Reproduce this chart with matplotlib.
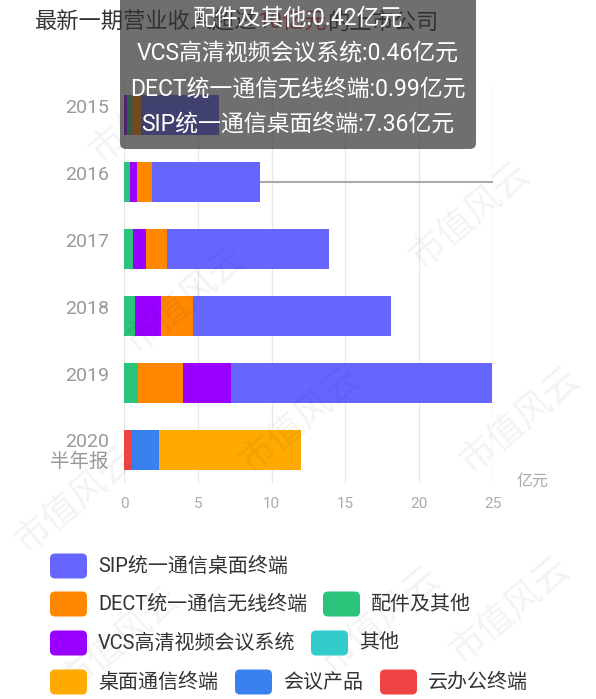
import numpy as np
import matplotlib.pyplot as plt
from matplotlib.patches import FancyBboxPatch
from matplotlib.transforms import IdentityTransform

plt.rcParams['font.family'] = ['Roboto', 'Noto Sans CJK SC', 'DejaVu Sans']

W, H = 596, 699

# data (亿元)
years = ['2015', '2016', '2017', '2018', '2019', '2020\n半年报']
names = ['SIP统一通信桌面终端', 'DECT统一通信无线终端', '配件及其他', 'VCS高清视频会议系统',
         '其他', '桌面通信终端', '会议产品', '云办公终端']
sip = [5.3, 7.36, 11.0, 13.4, 17.7, 0]
dect = [0.6, 0.99, 1.45, 2.2, 3.05, 0]
parts = [0.35, 0.42, 0.6, 0.75, 0.95, 0]
vcs = [0.2, 0.46, 0.87, 1.75, 3.25, 0]
other = [0, 0, 0, 0, 0, 0]
desk = [0, 0, 0, 0, 0, 9.6]
meeting = [0, 0, 0, 0, 0, 1.95]
cloud = [0, 0, 0, 0, 0, 0.45]
colors = ['#6666ff', '#ff8800', '#2cc47a', '#9900ff', '#33cccc', '#ffaa00', '#3a80ee', '#ee4444']
xticks = [0, 5, 10, 15, 20, 25]
hover = 1  # tooltip shown for 2016

vals = np.array([sip, dect, parts, vcs, other, desk, meeting, cloud])


def px(x, y):
    # pixel from top-left -> figure fraction
    return x / W, 1 - y / H


fig = plt.figure(figsize=(W / 100, H / 100), dpi=100)
fig.patch.set_facecolor('white')
l, b = px(124, 483)
ax = fig.add_axes([l, b, (493 - 124) / W, (483 - 82) / H])

# stacks go from the smallest segment to the largest one
for j in range(len(years)):
    order = np.argsort(vals[:, j], kind='stable')
    left = 0
    for i in order:
        v = vals[i, j]
        if v <= 0:
            continue
        ax.barh(j, v, left=left, height=0.6, color=colors[i], zorder=3)
        left += v

ax.axhline(hover, color='#aaaaaa', lw=1.5, zorder=2)

ax.set_xlim(0, 25)
ax.set_ylim(len(years) - 0.5, -0.5)
ax.set_xticks(xticks)
ax.set_xticklabels([str(t) for t in xticks], color='#aaaaaa', fontsize=11)
ax.set_yticks(range(len(years)))
ylabels = [y if '\n' in y else y + '\n ' for y in years]
ax.set_yticklabels(ylabels, color='#999999', fontsize=14, linespacing=1.05)
ax.tick_params(length=0)
ax.tick_params(axis='x', pad=10)
ax.tick_params(axis='y', pad=11)
ax.grid(axis='x', color='#e8e8e8', lw=1, zorder=0)
for s in ax.spines.values():
    s.set_visible(False)
ax.set_facecolor('none')

fig.text(*px(533, 481), '亿元', color='#aaaaaa', fontsize=11.5, ha='center', va='center')

# title, partly hidden under the tooltip
t1 = fig.text(*px(35, 23), '最新一期营业收入超过', fontsize=16, color='#333333',
              va='center', zorder=2)
t2 = fig.text(0, 0, '10亿元', fontsize=16, color='#e04040', va='center', zorder=2)
t3 = fig.text(0, 0, '的上市公司', fontsize=16, color='#333333', va='center', zorder=2)
fig.canvas.draw()
r = fig.canvas.get_renderer()
bb = t1.get_window_extent(r)
t2.set_position(fig.transFigure.inverted().transform((bb.x1, (bb.y0 + bb.y1) / 2)))
bb = t2.get_window_extent(r)
t3.set_position(fig.transFigure.inverted().transform((bb.x1, (bb.y0 + bb.y1) / 2)))

# tooltip
box = FancyBboxPatch((120, H - 149), 476 - 120, 160, boxstyle='round,pad=0,rounding_size=6',
                     facecolor='#323232', edgecolor='none', alpha=0.7,
                     transform=IdentityTransform(), zorder=5)
fig.add_artist(box)
order = [i for i in np.argsort(vals[:, hover], kind='stable') if vals[i, hover] > 0]
for k, i in enumerate(order):
    fig.text(*px(298, 18 + 35.3 * k), f'{names[i]}:{vals[i, hover]:.2f}亿元',
             color='white', fontsize=16.5, ha='center', va='center', zorder=6)

# legend
rows = [[(0, 50)], [(1, 50), (2, 323)], [(3, 50), (4, 311)], [(5, 50), (6, 235), (7, 380)]]
row_y = [566, 604, 643, 682]
for ry, row in zip(row_y, rows):
    for i, x0 in row:
        p = FancyBboxPatch((x0, H - ry - 12.5), 37, 25, boxstyle='round,pad=0,rounding_size=5',
                           facecolor=colors[i], edgecolor='none',
                           transform=IdentityTransform(), zorder=3)
        fig.add_artist(p)
        fig.text(*px(x0 + 48, ry), names[i], fontsize=14.4, color='#333333',
                 va='center', ha='left')

# watermark
for (x, y) in [(150, 110), (470, 215), (185, 300), (520, 420), (300, 420),
               (75, 500), (120, 640), (380, 620), (510, 610)]:
    fig.text(*px(x, y), '市值风云', fontsize=26, color='#000000', alpha=0.05,
             rotation=40, ha='center', va='center', zorder=1)

fig.savefig('out.png', dpi=100)
